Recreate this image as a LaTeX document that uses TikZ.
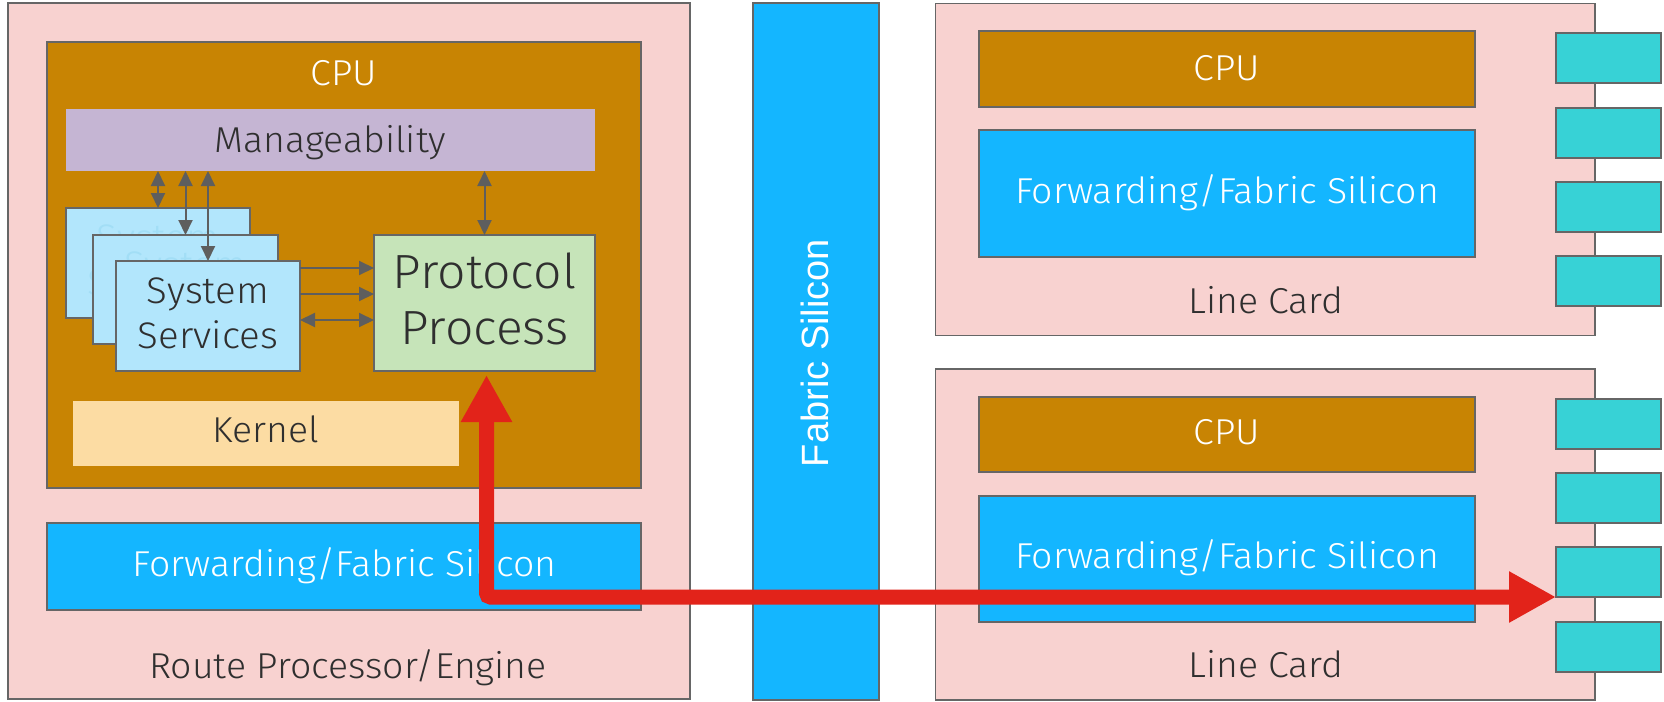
\documentclass[tikz,border=0pt]{standalone}
\usepackage{fontspec}
\setmainfont{Fira Sans Light}[FakeStretch=1.04]
\newfontfamily\fabfont{Liberation Sans}
\usetikzlibrary{arrows.meta}
\definecolor{pinkbg}{HTML}{F8D2D0}
\definecolor{cpubrown}{HTML}{C88403}
\definecolor{mgpurple}{HTML}{C5B5D3}
\definecolor{ssblue}{HTML}{B2E6FC}
\definecolor{ssfaint}{HTML}{A2DEF6}
\definecolor{ppgreen}{HTML}{C6E4B9}
\definecolor{kernelc}{HTML}{FCDCA3}
\definecolor{fwblue}{HTML}{14B6FF}
\definecolor{portteal}{HTML}{37D2D6}
\definecolor{edgegray}{HTML}{666666}
\definecolor{arrowgray}{HTML}{5E5E5E}
\definecolor{txtdark}{HTML}{2F2F2F}
\definecolor{redarrow}{HTML}{E2231A}
\tikzset{gtip/.tip={Triangle[width=14pt,length=15pt]},
  rtip/.tip={Triangle[width=48pt,length=47pt]}}
\begin{document}
\begin{tikzpicture}[x=1pt,y=-1pt,
  box/.style={draw=edgegray, line width=1.3pt, inner sep=0pt, outer sep=0pt, anchor=north west},
  flat/.style={inner sep=0pt, outer sep=0pt, anchor=north west},
  lbl/.style={text=txtdark, font=\fontsize{36}{43}\selectfont, inner sep=0pt, anchor=base},
  wlbl/.style={text=white, font=\fontsize{36}{43}\selectfont, inner sep=0pt, anchor=base},
  garrow/.style={draw=arrowgray, line width=2pt},
  port/.style={box, fill=portteal, minimum width=105pt, minimum height=50pt}]
\useasboundingbox[fill=white] (0,0) rectangle (1664,701);
% Route processor
\node[box, fill=pinkbg, minimum width=682pt, minimum height=696pt] (rp) at (8,3) {};
\node[box, fill=cpubrown, minimum width=594pt, minimum height=446pt] (cpu) at (47,42) {};
\node[wlbl] (cpul) at (344,85) {CPU};
\node[flat, fill=mgpurple, minimum width=529pt, minimum height=62pt] (mg) at (66,109) {};
\node[lbl] (mgl) at (330.5,152) {Manageability};
\node[box, fill=ssblue, minimum width=184pt, minimum height=110pt] (sb) at (66,208) {};
\node[text=ssfaint, font=\fontsize{37}{45}\selectfont, inner sep=0pt, anchor=base] (sbl1) at (158,250) {System};
\node[text=ssfaint, font=\fontsize{37}{45}\selectfont, inner sep=0pt, anchor=base] (sbl2) at (158,295) {Services};
\node[box, fill=ssblue, minimum width=185pt, minimum height=109pt] (sm) at (93,235) {};
\node[text=ssfaint, font=\fontsize{37}{45}\selectfont, inner sep=0pt, anchor=base] (sml1) at (185.5,277) {System};
\node[text=ssfaint, font=\fontsize{37}{45}\selectfont, inner sep=0pt, anchor=base] (sml2) at (185.5,322) {Services};
\node[box, fill=ssblue, minimum width=184pt, minimum height=110pt] (sf) at (116,261) {};
\node[lbl, font=\fontsize{37}{45}\selectfont] (sfl1) at (208,303) {System};
\node[lbl, font=\fontsize{37}{45}\selectfont] (sfl2) at (208,348) {Services};
\node[box, fill=ppgreen, minimum width=221pt, minimum height=136pt] (pp) at (374,235) {};
\node[lbl, font=\fontsize{48}{56}\selectfont] (ppl1) at (484.5,288) {Protocol};
\node[lbl, font=\fontsize{48}{56}\selectfont] (ppl2) at (484.5,344) {Process};
\node[flat, fill=kernelc, minimum width=386pt, minimum height=65pt] (kn) at (73,401) {};
\node[lbl] (knl) at (266,442.7) {Kernel};
\node[box, fill=fwblue, minimum width=594pt, minimum height=87pt] (rpff) at (47,523) {};
\node[wlbl] (rpffl) at (344.5,576.7) {Forwarding/Fabric Silicon};
\node[lbl] (rpl) at (348,678) {Route Processor/Engine};
% gray arrows
\draw[garrow, gtip-gtip] (sb.north) -- (sb.north |- mg.south);
\draw[garrow, gtip-gtip] (sm.north) -- (sm.north |- mg.south);
\draw[garrow, gtip-gtip] (sf.north) -- (sf.north |- mg.south);
\draw[garrow, gtip-gtip] (pp.north) -- (pp.north |- mg.south);
\coordinate (h1) at ([yshift=-7pt]sf.north east);
\coordinate (h2) at ([yshift=-33pt]sf.north east);
\coordinate (h3) at ([yshift=-59pt]sf.north east);
\draw[garrow, -gtip] (h1) -- (h1 -| pp.west);
\draw[garrow, -gtip] (h2) -- (h2 -| pp.west);
\draw[garrow, gtip-gtip] (h3) -- (h3 -| pp.west);
% Fabric
\node[box, fill=fwblue, minimum width=126pt, minimum height=697pt] (fab) at (753,3) {};
\node[text=white, font=\fabfont\fontsize{38}{45}\selectfont, inner sep=0pt, anchor=base, rotate=90] (fabl) at (828,353) {Fabric Silicon};
% Line card 1
\node[box, fill=pinkbg, minimum width=659.5pt, minimum height=332pt] (lc1) at (935.5,3.3) {};
\node[box, fill=cpubrown, minimum width=496pt, minimum height=76pt] (lc1cpu) at (979,31) {};
\node[wlbl] (lc1cpul) at (1227,80) {CPU};
\node[box, fill=fwblue, minimum width=496pt, minimum height=127pt] (lc1ff) at (979,130) {};
\node[wlbl] (lc1ffl) at (1227,203) {Forwarding/Fabric Silicon};
\node[lbl] (lc1l) at (1266,313) {Line Card};
\node[port] (p11) at (1556,33) {};
\node[port] (p12) at (1556,108) {};
\node[port] (p13) at (1556,182) {};
\node[port] (p14) at (1556,256) {};
% Line card 2
\node[box, fill=pinkbg, minimum width=659.5pt, minimum height=331pt] (lc2) at (935.5,369) {};
\node[box, fill=cpubrown, minimum width=496pt, minimum height=75pt] (lc2cpu) at (979,397) {};
\node[wlbl] (lc2cpul) at (1227,444.3) {CPU};
\node[box, fill=fwblue, minimum width=496pt, minimum height=126pt] (lc2ff) at (979,496) {};
\node[wlbl] (lc2ffl) at (1227,568.3) {Forwarding/Fabric Silicon};
\node[lbl] (lc2l) at (1266,677.7) {Line Card};
\node[port] (p21) at (1556,399) {};
\node[port] (p22) at (1556,473) {};
\node[port] (p23) at (1556,547) {};
\node[port] (p24) at (1556,622) {};
% red path
\coordinate (rs) at ([xshift=2pt,yshift=-4pt]pp.south);
\draw[draw=redarrow, line width=15pt, rounded corners=4pt, rtip-rtip] (rs) |- (p23.south west);
\end{tikzpicture}
\end{document}
